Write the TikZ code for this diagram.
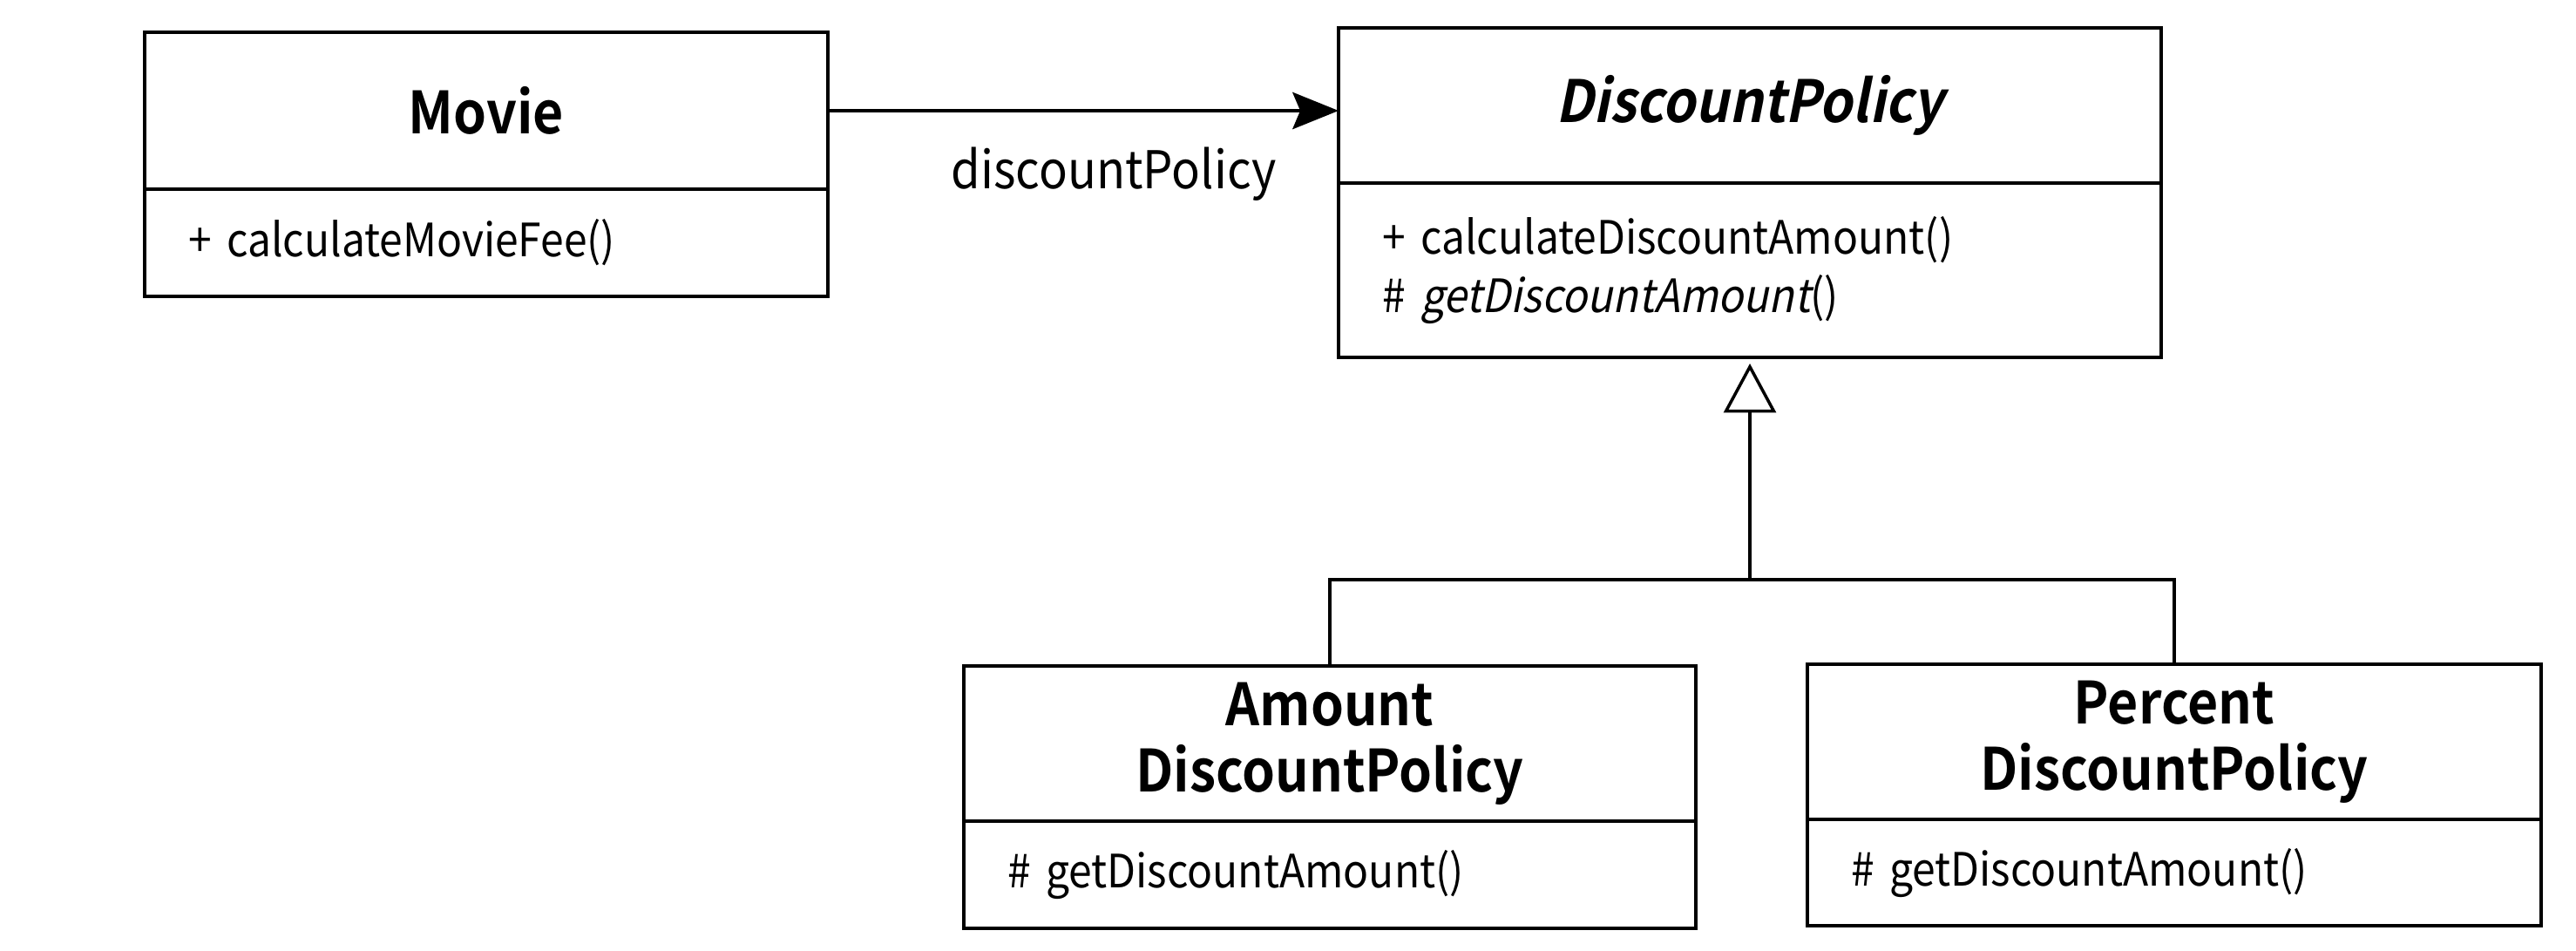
\documentclass[tikz,border=0pt]{standalone}
\usepackage{fontspec}
\setmainfont{Noto Sans CJK KR}[FakeStretch=0.91, BoldFont={Noto Sans CJK KR Bold},
  ItalicFont={Noto Sans CJK KR}, ItalicFeatures={FakeSlant=0.2},
  BoldItalicFont={Noto Sans CJK KR Bold}, BoldItalicFeatures={FakeSlant=0.2}]
\usetikzlibrary{positioning, arrows.meta}

\begin{document}
\begin{tikzpicture}[line width=1.2pt, outer sep=0pt,
  classname/.style={draw, rectangle, minimum height=1.78cm, align=center, inner sep=0pt,
    font=\fontsize{19}{21.5}\selectfont\bfseries},
  classops/.style={draw, rectangle, align=left, inner xsep=0.5cm, inner ysep=0pt,
    font=\fontsize{15}{19}\selectfont},
  assoc/.style={-{Stealth[length=15pt, width=12pt, inset=2.5pt]}},
  generalize/.style={-{Triangle[open, length=16pt, width=17pt, fill=white]}, line width=1pt, shorten >=2pt},
  branch/.style={line width=1pt}]

\useasboundingbox (0,0) rectangle (29.56,-10.90);

% Movie class, top left
\node (movie) at (5.58,-1.27) [classname, minimum width=7.84cm, minimum height=1.80cm] {Movie};
\node (movie-ops) [classops, below=0pt of movie, minimum height=1.23cm, text width=6.84cm] {+ calculateMovieFee()};

% abstract DiscountPolicy, top right
\node (policy) at (20.08,-1.21) [classname, minimum width=9.44cm] {\itshape DiscountPolicy};
\node (policy-ops) [classops, below=0pt of policy, minimum height=2.00cm, text width=8.44cm]
  {+ calculateDiscountAmount()\\ \# \textit{getDiscountAmount}()};

% the two concrete policies
\node (amount) at (15.26,-8.53) [classname, minimum width=8.40cm] {Amount\\DiscountPolicy};
\node (amount-ops) [classops, below=0pt of amount, minimum height=1.23cm, text width=7.40cm] {\# getDiscountAmount()};

\node (percent) at (24.95,-8.51) [classname, minimum width=8.42cm] {Percent\\DiscountPolicy};
\node (percent-ops) [classops, below=0pt of percent, minimum height=1.22cm, text width=7.42cm] {\# getDiscountAmount()};

% association
\draw[assoc] (movie.east) -- (movie.east -| policy.west)
  node[pos=0.56, below=0.3cm, font=\fontsize{17}{20}\selectfont] {discountPolicy};

% generalization, joined in one tree
\coordinate (join) at (20.08,-6.65);
\draw[branch] (amount.north) |- (join) -| (percent.north);
\draw[generalize] (join) -- (policy-ops.south);

\end{tikzpicture}
\end{document}
